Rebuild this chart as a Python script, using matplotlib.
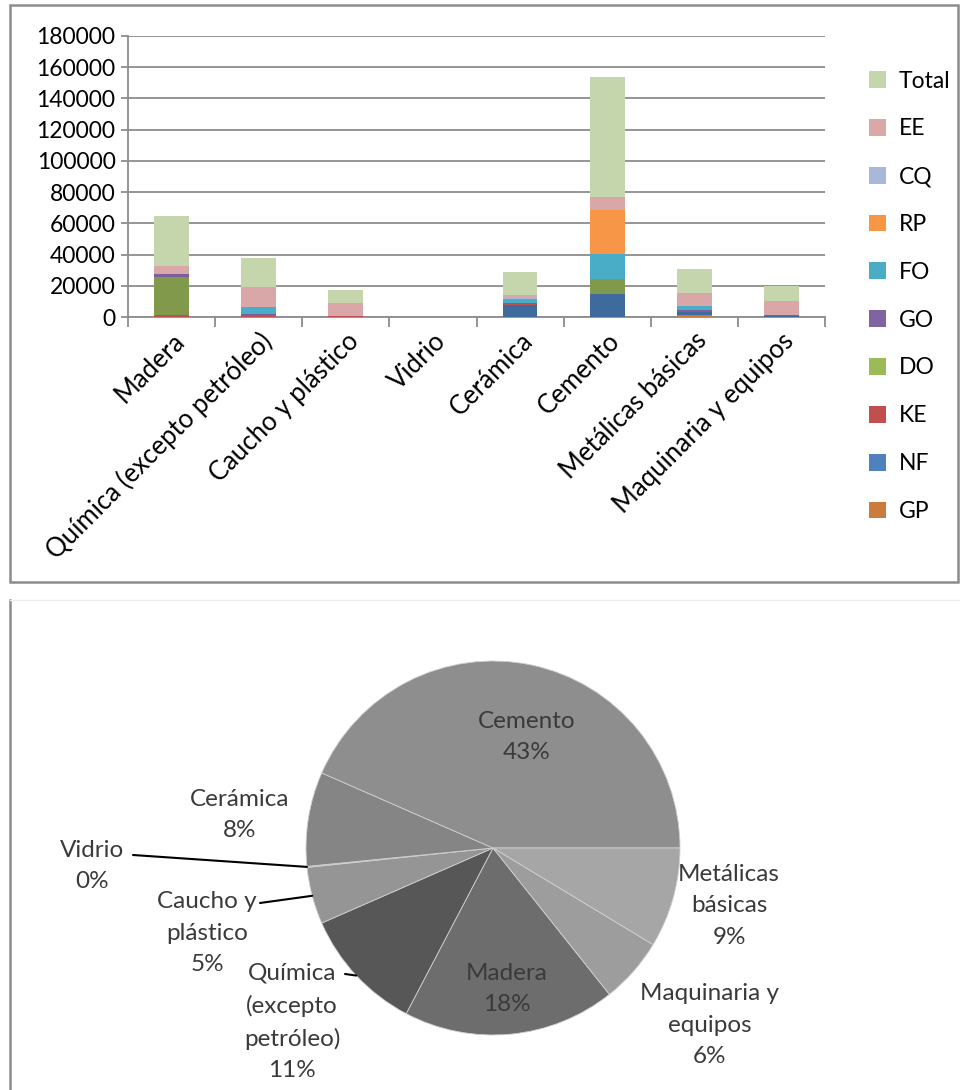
import numpy as np
import matplotlib
matplotlib.use("Agg")
import matplotlib.pyplot as plt
from matplotlib.patches import Rectangle, Patch
from matplotlib.lines import Line2D

plt.rcParams['font.family'] = ['Lato', 'DejaVu Sans']

# sectors
sectores = ["Madera", "Química (excepto petróleo)", "Caucho y plástico", "Vidrio",
            "Cerámica", "Cemento", "Metálicas básicas", "Maquinaria y equipos"]

# energy sources per sector (stack order, bottom to top)
GP = [0, 0, 0, 0, 0, 0, 1600, 0]
NF = [300, 300, 200, 0, 7600, 15000, 1500, 700]
KE = [1000, 900, 300, 0, 900, 0, 400, 0]
DO = [24300, 0, 0, 0, 0, 9500, 0, 0]
GO = [1700, 600, 0, 0, 400, 0, 800, 900]
FO = [0, 4300, 0, 0, 2900, 15700, 2700, 0]
RP = [0, 0, 0, 0, 0, 28400, 0, 0]
CQ = [500, 200, 0, 0, 300, 0, 900, 0]
EE = [4700, 12700, 8200, 150, 2300, 8200, 7400, 8400]
Total = [32500, 19000, 8700, 150, 14400, 76800, 15300, 10000]

series_names = ["GP", "NF", "KE", "DO", "GO", "FO", "RP", "CQ", "EE", "Total"]
series_vals = [GP, NF, KE, DO, GO, FO, RP, CQ, EE, Total]
bar_colors = ["#C97A3A", "#3F6A9E", "#C0504D", "#80994A", "#7B5E9C",
              "#4AADC7", "#F79646", "#A9B8D8", "#D9A7A7", "#C6D6AC"]
legend_colors = ["#CB7B3B", "#4F81BD", "#C0504D", "#9BBB59", "#8064A2",
                 "#4BACC6", "#F79646", "#A9B8D8", "#DBA8A9", "#C6D6AC"]

# pie chart labels
pie_labels = ["Madera", "Química\n(excepto\npetróleo)", "Caucho y\nplástico", "Vidrio",
              "Cerámica", "Cemento", "Metálicas\nbásicas", "Maquinaria y\nequipos"]
pie_colors = ["#6D6D6D", "#575757", "#959595", "#7A7A7A",
              "#858585", "#8E8E8E", "#A6A6A6", "#9D9D9D"]

W, H = 960, 1090
fig = plt.figure(figsize=(W / 100, H / 100), dpi=100)


def px_rect(x0, y0, x1, y1):
    return [x0 / W, 1 - y1 / H, (x1 - x0) / W, (y1 - y0) / H]


grid_c = "#8C8C8C"

# ---------- stacked columns ----------
ax = fig.add_axes(px_rect(128, 36, 825, 317))
x = np.arange(len(sectores))
bottom = np.zeros(len(sectores))
for name, vals, col in zip(series_names, series_vals, bar_colors):
    vals = np.array(vals, dtype=float)
    ax.bar(x, vals, bottom=bottom, width=0.4, color=col, label=name, zorder=3)
    bottom += vals

ax.set_xlim(-0.5, len(sectores) - 0.5)
ax.set_ylim(0, 180000)
ax.set_yticks(np.arange(0, 180001, 20000))
ax.set_yticklabels([str(v) for v in range(0, 180001, 20000)], fontsize=16.5)
ax.yaxis.grid(True, color=grid_c, linewidth=1.3, zorder=0)
ax.set_axisbelow(True)
ax.set_xticks(x)
ax.set_xticklabels(sectores, rotation=45, ha='right', va='top',
                   rotation_mode='anchor', fontsize=18.5)
ax.set_xticks(np.arange(-0.5, len(sectores)), minor=True)
ax.tick_params(axis='x', which='major', length=0, pad=8)
ax.tick_params(axis='x', which='minor', length=7, width=1.3, color=grid_c)
ax.tick_params(axis='y', length=5, width=1.3, color=grid_c, pad=4)
for s in ['top', 'right']:
    ax.spines[s].set_visible(False)
for s in ['left', 'bottom']:
    ax.spines[s].set_color(grid_c)
    ax.spines[s].set_linewidth(1.3)

handles = [Patch(facecolor=c, edgecolor='none') for c in legend_colors]
leg = fig.legend(handles[::-1], series_names[::-1], loc='upper left',
                 bbox_to_anchor=(848 / W, 1 - 50 / H), frameon=False,
                 fontsize=16.5, handlelength=0.75, handleheight=0.75,
                 handletextpad=0.55, labelspacing=1.17)

# panel frames
fig.patches.append(Rectangle((10 / W, 1 - 582 / H), 948 / W, 577 / H,
                             transform=fig.transFigure, fill=False,
                             edgecolor="#8C8C8C", linewidth=1.8))
fig.lines.append(Line2D([10 / W, 10 / W], [1 - 600 / H, 0],
                        transform=fig.transFigure, color="#8C8C8C", linewidth=1.8))
fig.lines.append(Line2D([10 / W, 1], [1 - 600 / H, 1 - 600 / H],
                        transform=fig.transFigure, color="#EEEEEE", linewidth=1))

# ---------- pie ----------
cx, cy, r = 493, 848, 187
pax = fig.add_axes(px_rect(cx - r, cy - r, cx + r, cy + r))
totals = np.array(Total, dtype=float)
shares = totals / totals.sum() * 100
# last slices end at 3 o'clock
start = (shares[:6].sum() / 100 * 360) % 360
wedges, _ = pax.pie(totals, colors=pie_colors, startangle=start, counterclock=False,
                    radius=1, wedgeprops=dict(edgecolor="#D0D0D0", linewidth=0.6))
pax.set_xlim(-1, 1)
pax.set_ylim(-1, 1)
pax.set_aspect('equal')
pax.axis('off')

# label centres in pixels
label_pos = {
    0: (507, 989),
    1: (292, 1022),
    2: (207, 933),
    3: (92, 866),
    4: (240, 815),
    5: (527, 737),
    6: (729, 906),
    7: (710, 1025),
}
lbl_c = "#3A3A3A"
for i, (px, py) in label_pos.items():
    txt = f"{pie_labels[i]}\n{shares[i]:.0f}%"
    fig.text(px / W, 1 - py / H, txt, ha='center', va='center',
             fontsize=17.5, color=lbl_c, linespacing=1.6)

# leader lines: from label end to wedge edge
leaders = {3: (133, 855), 2: (260, 903), 1: (345, 974)}
for i, (lx, ly) in leaders.items():
    w = wedges[i]
    mid = np.deg2rad((w.theta1 + w.theta2) / 2)
    pax.annotate("", xy=(np.cos(mid), np.sin(mid)), xycoords='data',
                 xytext=(lx, H - ly), textcoords='figure pixels',
                 arrowprops=dict(arrowstyle='-', color='#000000', lw=1.5,
                                 shrinkA=0, shrinkB=0))

fig.savefig("out.png", dpi=100, facecolor='white')
